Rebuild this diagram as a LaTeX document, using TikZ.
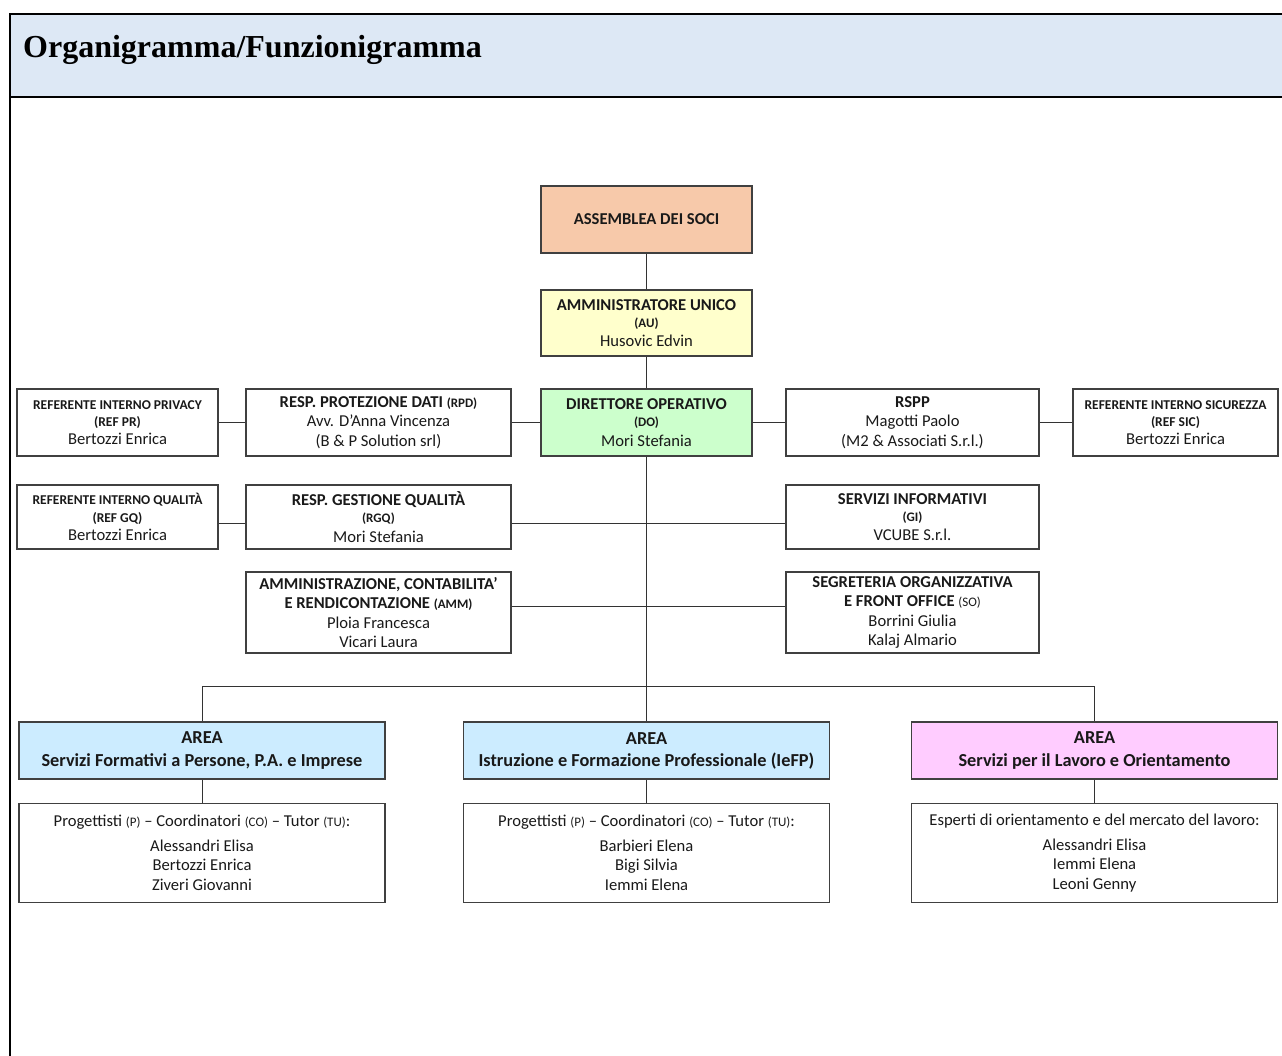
\documentclass[tikz,border=0pt]{standalone}
\usepackage{fontspec}
\setmainfont{Carlito}
\newfontfamily\titlefont{Liberation Serif}
\definecolor{hdr}{RGB}{221,232,245}
\definecolor{peach}{RGB}{247,201,170}
\definecolor{paleyellow}{RGB}{255,255,204}
\definecolor{palegreen}{RGB}{204,255,204}
\definecolor{paleblue}{RGB}{204,236,255}
\definecolor{palepink}{RGB}{255,204,255}
\definecolor{edge}{RGB}{64,64,64}
\newcommand{\sml}[1]{{\fontsize{13}{15}\selectfont #1}}
\newcommand{\tny}[1]{{\fontsize{13.5}{16}\selectfont #1}}
\tikzset{
  orgbox/.style={draw=edge, line width=1.3pt, rectangle, align=center, inner sep=0pt,
    font=\fontsize{16.6}{19.5}\selectfont, text=black!90},
  conn/.style={draw=black!80, line width=1pt},
}
\begin{document}
\begin{tikzpicture}[x=1pt,y=-1pt]
\useasboundingbox (0,0) rectangle (1282,1056);
% frame
\fill[hdr] (10,14) rectangle (1282,97);
\draw[line width=1.6pt] (1282,14) -- (10,14) -- (10,1056);
\draw[line width=2pt] (10,97) -- (1282,97);
\node[anchor=base west, inner sep=0pt, font=\titlefont\bfseries\fontsize{32}{36}\selectfont] (title) at (23,58) {Organigramma/Funzionigramma};

% top chain
\node[orgbox, fill=peach, minimum width=211, minimum height=67] (as) at (646.5,219.5) {\textbf{ASSEMBLEA DEI SOCI}};
\node[orgbox, fill=paleyellow, minimum width=211, minimum height=66] (au) at (646.5,323) {\textbf{AMMINISTRATORE UNICO}\\[-2.5pt] \sml{\textbf{(AU)}}\\ Husovic Edvin};
\node[orgbox, fill=palegreen, minimum width=211, minimum height=67] (do) at (646.5,422.5) {\textbf{DIRETTORE OPERATIVO}\\[-2.5pt] \sml{\textbf{(DO)}}\\ Mori Stefania};

% row 1
\node[orgbox, minimum width=201, minimum height=67] (refpr) at (117.5,422.5) {\tny{\textbf{REFERENTE INTERNO PRIVACY}}\\[-2pt] \tny{\textbf{(REF PR)}}\\[-1.5pt] Bertozzi Enrica};
\node[orgbox, minimum width=265, minimum height=67] (rpd) at (378.5,422.5) {\textbf{RESP. PROTEZIONE DATI} \sml{\textbf{(RPD)}}\\ Avv. D’Anna Vincenza\\ (B \& P Solution srl)};
\node[orgbox, minimum width=253, minimum height=67] (rspp) at (912.5,422.5) {\textbf{RSPP}\\ Magotti Paolo\\ (M2 \& Associati S.r.l.)};
\node[orgbox, minimum width=205, minimum height=67] (refsic) at (1175.5,422.5) {\tny{\textbf{REFERENTE INTERNO SICUREZZA}}\\[-2pt] \tny{\textbf{(REF SIC)}}\\[-1.5pt] Bertozzi Enrica};

% row 2
\node[orgbox, minimum width=201, minimum height=64] (refgq) at (117.5,517) {\tny{\textbf{REFERENTE INTERNO QUALITÀ}}\\[-2pt] \tny{\textbf{(REF GQ)}}\\[-1.5pt] Bertozzi Enrica};
\node[orgbox, minimum width=265, minimum height=64] (rgq) at (378.5,517) {\textbf{RESP. GESTIONE QUALITÀ}\\[-2.5pt] \sml{\textbf{(RGQ)}}\\ Mori Stefania};
\node[orgbox, minimum width=253, minimum height=64] (gi) at (912.5,517) {\textbf{SERVIZI INFORMATIVI}\\[-2.5pt] \sml{\textbf{(GI)}}\\ VCUBE S.r.l.};

% row 3
\node[orgbox, minimum width=265, minimum height=81] (amm) at (378.5,612.5) {\textbf{AMMINISTRAZIONE, CONTABILITA’}\\ \textbf{E RENDICONTAZIONE} \sml{\textbf{(AMM)}}\\ Ploia Francesca\\ Vicari Laura};
\node[orgbox, minimum width=253, minimum height=81] (so) at (912.5,612.5) {\textbf{SEGRETERIA ORGANIZZATIVA}\\ \textbf{E FRONT OFFICE} \sml{(SO)}\\ Borrini Giulia\\ Kalaj Almario};

% areas
\tikzset{areabox/.style={orgbox, minimum width=366, minimum height=57, font=\bfseries\fontsize{18.3}{22}\selectfont}}
\node[areabox, fill=paleblue] (a1) at (202,750.5) {AREA\\ Servizi Formativi a Persone, P.A. e Imprese};
\node[areabox, fill=paleblue] (a2) at (646.5,750.5) {AREA\\ Istruzione e Formazione Professionale (IeFP)};
\node[areabox, fill=palepink] (a3) at (1094.5,750.5) {AREA\\ Servizi per il Lavoro e Orientamento};

\tikzset{teambox/.style={orgbox, minimum width=366, minimum height=99}}
\node[teambox] (t1) at (202,853) {Progettisti \sml{(P)} -- Coordinatori \sml{(CO)} -- Tutor \sml{(TU)}:\\[5pt] Alessandri Elisa\\ Bertozzi Enrica\\ Ziveri Giovanni};
\node[teambox] (t2) at (646.5,853) {Progettisti \sml{(P)} -- Coordinatori \sml{(CO)} -- Tutor \sml{(TU)}:\\[5pt] Barbieri Elena\\ Bigi Silvia\\ Iemmi Elena};
\node[teambox] (t3) at (1094.5,853) {Esperti di orientamento e del mercato del lavoro:\\[5pt] Alessandri Elisa\\ Iemmi Elena\\ Leoni Genny};

% connectors
\coordinate (busL) at (202,686);
\coordinate (busR) at (1094.5,686);
\draw[conn] (as) -- (au);
\draw[conn] (au) -- (do);
\draw[conn] (do) -- (a2);
\draw[conn] (busL) -- (busR);
\draw[conn] (busL) -- (a1);
\draw[conn] (busR) -- (a3);
\draw[conn] (a1) -- (t1);
\draw[conn] (a2) -- (t2);
\draw[conn] (a3) -- (t3);
\draw[conn] (refpr) -- (rpd);
\draw[conn] (rpd) -- (do);
\draw[conn] (do) -- (rspp);
\draw[conn] (rspp) -- (refsic);
\draw[conn] ([yshift=-6pt]refgq.east) -- ([yshift=-6pt]rgq.west);
\draw[conn] ([yshift=-6pt]rgq.east) -- ([yshift=-6pt]gi.west);
\draw[conn] ([yshift=6pt]amm.east) -- ([yshift=6pt]so.west);
\end{tikzpicture}
\end{document}
